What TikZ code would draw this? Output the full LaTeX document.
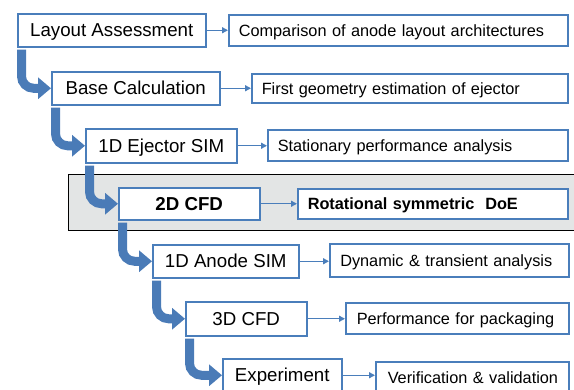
\documentclass[tikz,border=0pt]{standalone}
\usepackage{fontspec}
\setmainfont{Liberation Sans}
\usetikzlibrary{arrows.meta}
\definecolor{boxblue}{HTML}{4A7EBB}
\definecolor{arrblue}{HTML}{4A7BB7}
\definecolor{bandgray}{HTML}{E3E5E5}
\tikzset{
  leftbox/.style={draw=boxblue, line width=1.5pt, fill=white, anchor=north west, inner sep=0pt, align=center, text height=13.4pt, text depth=0pt, font=\fontsize{18.7}{20}\selectfont},
  rightbox/.style={draw=boxblue, line width=1.5pt, fill=white, anchor=north west, inner sep=0pt, text height=11.7pt, text depth=0pt, font=\fontsize{16.3}{18}\selectfont},
  thinarrow/.style={draw=boxblue, line width=1.4pt, -{Triangle[length=6pt,width=6pt]}},
  bigarrow/.style={draw=arrblue, line width=9pt, rounded corners=12pt, -{Triangle[length=13pt,width=21pt]}},
}
\begin{document}
\begin{tikzpicture}[x=1pt,y=-1pt]
\useasboundingbox (0,0) rectangle (574,389);
\clip (0,0) rectangle (574,389);
% band
\draw[fill=bandgray, draw=black, line width=0.9pt] (68,174) rectangle (590,230);
% left boxes
\node[leftbox, minimum width=188pt, minimum height=33pt] (A) at (17,13) {Layout Assessment};
\node[leftbox, minimum width=168pt, minimum height=33pt] (B) at (51,71) {Base Calculation};
\node[leftbox, minimum width=151pt, minimum height=34pt] (C) at (85,128) {1D Ejector SIM};
\node[leftbox, minimum width=141pt, minimum height=32pt, font=\fontsize{18.7}{20}\selectfont\bfseries] (D) at (118,187) {2D CFD};
\node[leftbox, minimum width=146pt, minimum height=33pt] (E) at (152,244) {1D Anode SIM};
\node[leftbox, minimum width=121pt, minimum height=34pt] (F) at (185,301) {3D CFD};
\node[leftbox, minimum width=119pt, minimum height=33pt] (G) at (222,358) {Experiment};
% right boxes
\node[rightbox, minimum width=339pt, minimum height=31pt, text width=319pt, inner xsep=10pt] (A2) at (228,14) {\mbox{Comparison of anode layout architectures}};
\node[rightbox, minimum width=316pt, minimum height=29pt, text width=296pt, inner xsep=10pt] (B2) at (251,73) {\mbox{First geometry estimation of ejector}};
\node[rightbox, minimum width=300pt, minimum height=31pt, text width=280pt, inner xsep=10pt] (C2) at (267,129) {\mbox{Stationary performance analysis}};
\node[rightbox, minimum width=270pt, minimum height=30pt, text width=250pt, inner xsep=10pt, font=\fontsize{16.3}{18}\selectfont\bfseries] (D2) at (297,188) {\mbox{Rotational symmetric\ \ DoE}};
\node[rightbox, minimum width=239pt, minimum height=33pt, text width=218pt, inner xsep=10.5pt] (E2) at (329,243) {\mbox{Dynamic \& transient analysis}};
\node[rightbox, minimum width=223pt, minimum height=31pt, text width=201pt, inner xsep=11pt] (F2) at (345,302) {\mbox{Performance for packaging}};
\node[rightbox, minimum width=193pt, minimum height=32pt, text width=169pt, inner xsep=12pt] (G2) at (375,361) {\mbox{Verification \& validation}};
% thin connectors
\draw[thinarrow] (A.east) -- (A2.west);
\draw[thinarrow] (B.east) -- (B2.west |- B.east);
\draw[thinarrow] (C.east) -- (C2.west |- C.east);
\draw[thinarrow] (D.east) -- (D2.west |- D.east);
\draw[thinarrow] (E.east) -- (E2.west |- E.east);
\draw[thinarrow] (F.east) -- (F2.west |- F.east);
\draw[thinarrow] (G.east) -- (G2.west |- G.east);
% big arrows
\draw[bigarrow] ([xshift=4.5pt,yshift=-2pt]A.south west) |- (B.west);
\draw[bigarrow] ([xshift=4.5pt,yshift=-2pt]B.south west) |- (C.west);
\draw[bigarrow] ([xshift=4.5pt,yshift=-2pt]C.south west) |- (D.west);
\draw[bigarrow] ([xshift=4.5pt,yshift=-2pt]D.south west) |- (E.west);
\draw[bigarrow] ([xshift=4.5pt,yshift=-2pt]E.south west) |- (F.west);
\draw[bigarrow] ([xshift=4.5pt,yshift=-2pt]F.south west) |- (G.west);
\end{tikzpicture}
\end{document}
